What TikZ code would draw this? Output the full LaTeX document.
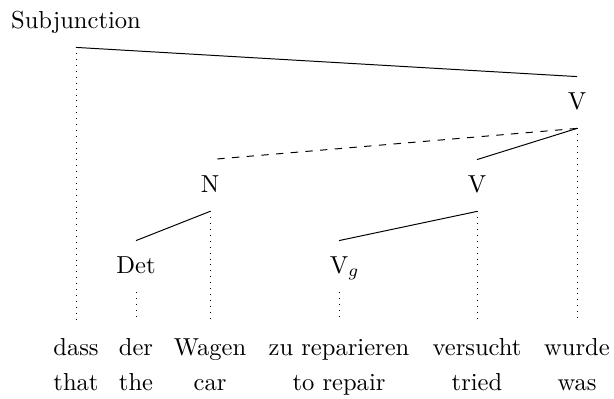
\documentclass[tikz,border=0pt]{standalone}

\begin{document}
\begin{tikzpicture}[x=0.4072pt, y=-0.4072pt,
    cat/.style={anchor=base, inner sep=0pt, text height=13pt, text depth=7.7pt},
    word/.style={anchor=base, inner sep=0pt, text height=14.3pt},
    gloss/.style={anchor=base, inner sep=0pt}]

    \useasboundingbox (0,0) rectangle (614,398);

    % categories
    \node[cat] (subj) at (76,28) {Subjunction};
    \node[cat] (v1) at (577,109) {V};
    \node[cat] (n) at (210,192) {N};
    \node[cat] (v2) at (477,192) {V};
    \node[cat] (det) at (136,273) {Det};
    \node[cat] (vg) at (339,273) {V\rlap{$_g$}};

    % words and glosses
    \foreach \x/\w/\g/\n in {76/dass/that/w1, 136/der/the/w2, 210/Wagen/car/w3,
        339/zu reparieren/to repair/w4, 477/versucht/tried/w5, 577/wurde/was/w6} {
        \node[word] (\n) at (\x,355) {\w};
        \node[gloss] (\n g) at (\x,390) {\g};
    }

    % dependencies
    \draw (subj.south) -- (v1.north);
    \draw[dashed] (v1.south) -- (n.north);
    \draw (v1.south) -- (v2.north);
    \draw (n.south) -- (det.north);
    \draw (v2.south) -- (vg.north);

    % projection lines
    \foreach \c/\w in {subj/w1, det/w2, n/w3, vg/w4, v2/w5, v1/w6} {
        \draw[dotted] (\c.south) -- (\w.north);
    }

\end{tikzpicture}
\end{document}
